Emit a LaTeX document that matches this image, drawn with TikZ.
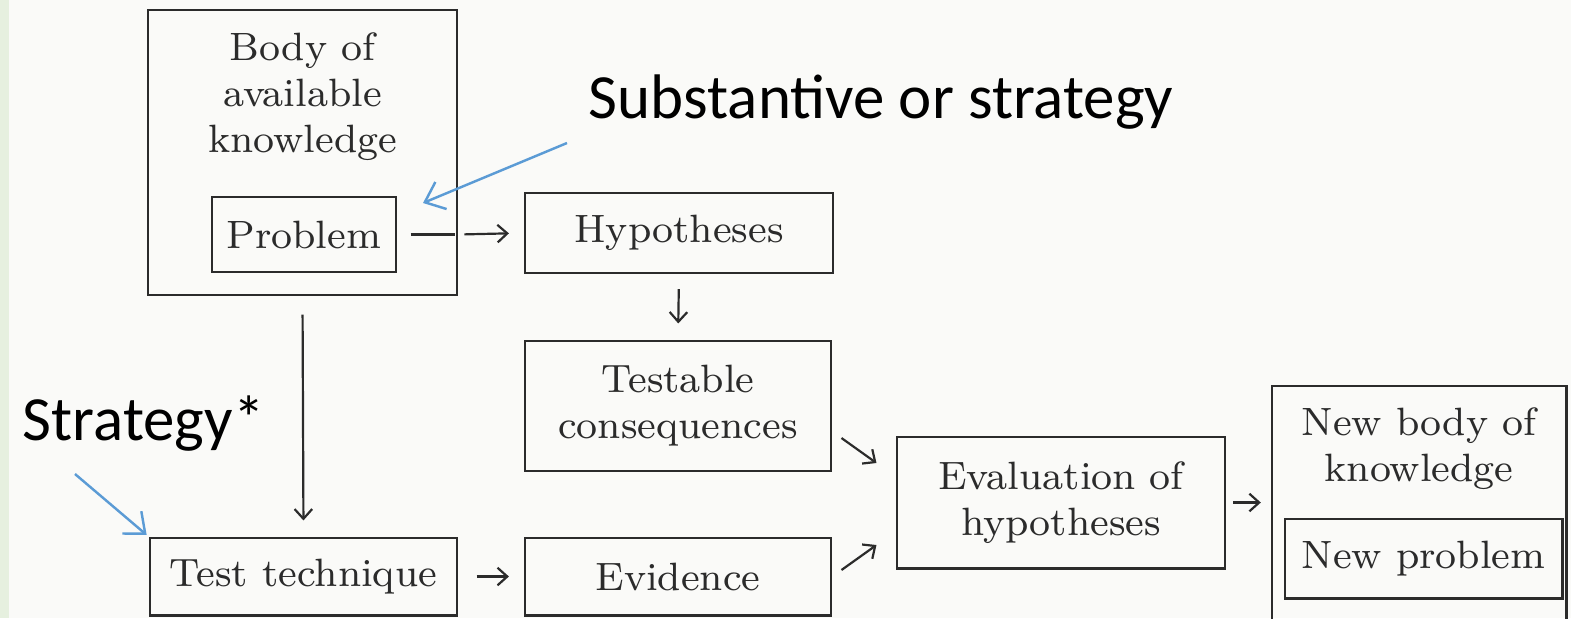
\documentclass[tikz,border=0pt]{standalone}
\usepackage{fontspec}
\newfontfamily\notefont{Carlito}
\usetikzlibrary{arrows.meta}
\definecolor{ink}{HTML}{2B2B2B}
\definecolor{notecol}{HTML}{5B9BD5}
\definecolor{paper}{HTML}{FAFAF8}
\definecolor{strip}{HTML}{E6F0DF}
\newcommand\boxfont{\fontsize{8.1}{9.45}\selectfont}

\begin{document}
\begin{tikzpicture}[
  x=0.205pt, y=-0.205pt,
  frame/.style={draw=ink, line width=0.6pt, inner sep=0pt, align=center, font=\boxfont, text=ink},
  txt/.style={inner sep=0pt, align=center, font=\boxfont, text=ink},
  arr/.style={ink, line width=0.45pt, -{Straight Barb[length=2pt,width=3.6pt]}},
  plain/.style={ink, line width=0.5pt},
  note/.style={notecol, line width=0.5pt, -{Straight Barb[length=3.6pt,width=6pt]}},
  notetext/.style={inner sep=0pt, font=\notefont\fontsize{12.9}{15}\selectfont, anchor=base west}
]
% page
\fill[paper] (0,0) rectangle (1571,618);
\fill[strip] (0,0) rectangle (9,618);
\useasboundingbox (0,0) rectangle (1571,618);

% boxes
\node[frame, minimum width=63.35pt, minimum height=58.43pt] (body) at (302.5,152.5) {};
\node[txt] (bodytxt) at (302.5,97) {Body of\\available\\knowledge};
\node[frame, minimum width=37.72pt, minimum height=15.38pt] (problem) at (304,234.5) {Problem};
\node[frame, minimum width=63.14pt, minimum height=16.4pt] (hyp) at (679,233) {Hypotheses};
\node[frame, minimum width=62.73pt, minimum height=26.65pt] (testable) at (678,406) {Testable\\consequences};
\node[frame, minimum width=62.94pt, minimum height=15.79pt] (technique) at (303.5,576.5) {Test technique};
\node[frame, minimum width=62.73pt, minimum height=15.79pt] (evidence) at (678,576.5) {Evidence};
\node[frame, minimum width=67.24pt, minimum height=26.86pt] (eval) at (1061,502.5) {Evaluation of\\hypotheses};
\node[frame, minimum width=60.27pt, minimum height=50.02pt] (newbody) at (1419,508) {};
\node[txt] (newbodytxt) at (1419,449) {New body of\\knowledge};
\node[frame, minimum width=56.79pt, minimum height=16.2pt] (newprob) at (1423.5,558.5) {New problem};

% flow
\draw[plain, shorten <=2.7pt, shorten >=0.8pt] (problem.east) -- (problem.east -| body.east);
\draw[arr, shorten <=1.2pt, shorten >=3pt] (problem.east -| body.east) -- (hyp.west);
\draw[arr, shorten <=3pt, shorten >=3.3pt] (hyp.south) -- (testable.north);
\draw[arr, shorten <=3.7pt, shorten >=3.3pt] (body.south) -- (technique.north);
\draw[arr, shorten <=3.7pt, shorten >=3pt] (technique.east) -- (evidence.west);
\coordinate (downtail) at ([shift={(9,32)}]testable.east);
\coordinate (downhead) at ([shift={(44,57)}]testable.east);
\draw[arr] (downtail) -- (downhead);
\coordinate (uptail) at ([shift={(9,-6.5)}]evidence.east);
\coordinate (uphead) at ([shift={(44,-31.5)}]evidence.east);
\draw[arr] (uptail) -- (uphead);
\draw[arr, shorten <=1.4pt, shorten >=2pt] (eval.east) -- (eval.east -| newbody.west);

% notes
\node[notetext] (subst) at (588,118) {Substantive or strategy};
\coordinate (substtail) at (567,143);
\coordinate (substhead) at (423,203);
\draw[note] (substtail) -- (substhead);
\node[notetext] (strategy) at (22,440) {Strategy*};
\coordinate (strattail) at (75,474);
\draw[note, shorten >=0.5pt] (strattail) -- (technique.north west);

\end{tikzpicture}
\end{document}
